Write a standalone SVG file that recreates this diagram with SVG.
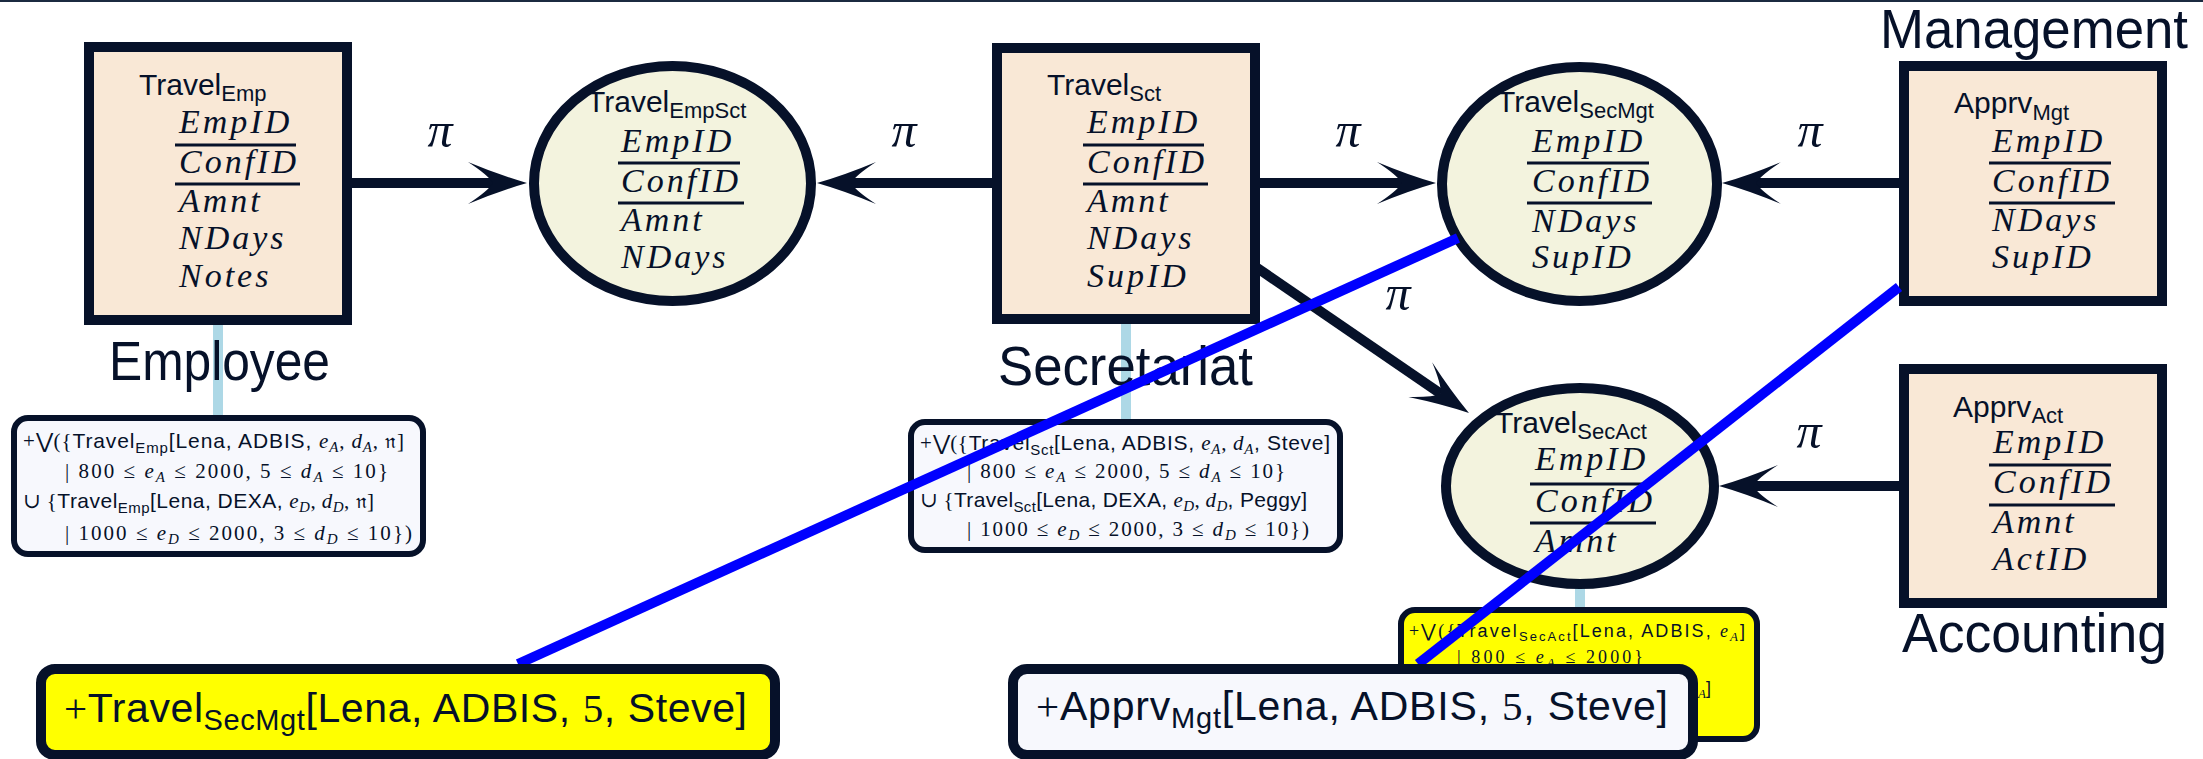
<svg xmlns="http://www.w3.org/2000/svg" width="2203" height="759" viewBox="0 0 2203 759">
<defs>
<style>
.frame{fill:#f9e8d6;stroke:#061129;stroke-width:10}
.oval{fill:#f3f3de;stroke:#061129;stroke-width:10}
.note{fill:#f7f8fd;stroke:#061129;stroke-width:6}
.notey{fill:#ffff00;stroke:#061129;stroke-width:6}
.big{fill:#f7f8fd;stroke:#061129;stroke-width:10}
.bigy{fill:#ffff00;stroke:#061129;stroke-width:10}
text{fill:#061129}
.hd{font-family:"Liberation Sans",Arial,sans-serif;font-size:30px}
.sub{font-size:22px}
.at{font-family:"Liberation Serif","Times New Roman",serif;font-style:italic;font-size:34px;letter-spacing:3px}
.ul{stroke:#061129;stroke-width:3}
.pi{font-family:"Liberation Serif","Times New Roman",serif;font-style:italic;font-size:50px;text-anchor:middle}
.lbl{font-family:"Liberation Sans",Arial,sans-serif;font-size:56px}
.arr{stroke:#061129;stroke-width:10;fill:none;marker-end:url(#ah)}
.lb{stroke:#add8e6;stroke-width:10}
.bl{stroke:#0000ff;stroke-width:10}
.f{font-family:"Liberation Sans",Arial,sans-serif;font-size:21px}
.fy{font-family:"Liberation Sans",Arial,sans-serif;font-size:18px}
.bt{font-family:"Liberation Sans",Arial,sans-serif;font-size:41px}
.m{font-family:"Liberation Serif","DejaVu Serif",serif;font-style:normal}
.mi{font-family:"Liberation Serif","DejaVu Serif",serif;font-style:italic}
.s{font-size:15px}
.sy{font-size:13px}
</style>
<marker id="ah" markerUnits="userSpaceOnUse" markerWidth="70" markerHeight="50" viewBox="0 0 70 50" refX="26" refY="25" orient="auto">
<path d="M60,25 Q32,17 1,4 Q21,17 26,25 Q21,33 1,46 Q32,33 60,25 Z" fill="#061129"/>
</marker>
</defs>
<rect x="0" y="0" width="2203" height="2" fill="#1b2a40"/>

<g id="connectors">
<line class="lb" x1="218" y1="320" x2="218" y2="418"/>
<line class="lb" x1="1126" y1="320" x2="1126" y2="422"/>
<line class="lb" x1="1580" y1="584" x2="1580" y2="610"/>
<line class="arr" x1="350" y1="183" x2="493" y2="183"/>
<line class="arr" x1="995" y1="183" x2="851" y2="183"/>
<line class="arr" x1="1258" y1="183" x2="1402" y2="183"/>
<line class="arr" x1="1250" y1="263" x2="1440.9" y2="393.8"/>
<line class="arr" x1="1901" y1="183" x2="1756" y2="183"/>
<line class="arr" x1="1901" y1="486" x2="1753" y2="486"/>
<text class="pi" x="440" y="147">π</text>
<text class="pi" x="904" y="147">π</text>
<text class="pi" x="1348" y="147">π</text>
<text class="pi" x="1398" y="310">π</text>
<text class="pi" x="1810" y="147">π</text>
<text class="pi" x="1809" y="448">π</text>
</g>

<g id="travel-emp">
<rect class="frame" x="89" y="47" width="258" height="273"/>
<text class="hd" x="139" y="95">Travel<tspan class="sub" dy="6">Emp</tspan></text>
<text class="at" x="179" y="133">EmpID</text>
<line class="ul" x1="175" y1="145" x2="296" y2="145"/>
<text class="at" x="179" y="173">ConfID</text>
<line class="ul" x1="175" y1="184" x2="300" y2="184"/>
<text class="at" x="179" y="212">Amnt</text>
<text class="at" x="179" y="249">NDays</text>
<text class="at" x="179" y="287">Notes</text>
<text class="lbl" x="109" y="380" textLength="221" lengthAdjust="spacingAndGlyphs">Employee</text>
</g>

<g id="travel-empsct">
<ellipse class="oval" cx="672.5" cy="183.5" rx="138.5" ry="117.5"/>
<text class="hd" x="587" y="112">Travel<tspan class="sub" dy="6">EmpSct</tspan></text>
<text class="at" x="621" y="152">EmpID</text>
<line class="ul" x1="618" y1="163" x2="740" y2="163"/>
<text class="at" x="621" y="192">ConfID</text>
<line class="ul" x1="618" y1="203" x2="744" y2="203"/>
<text class="at" x="621" y="231">Amnt</text>
<text class="at" x="621" y="268">NDays</text>
</g>

<g id="travel-sct">
<rect class="frame" x="997" y="48" width="258" height="271"/>
<text class="hd" x="1047" y="95">Travel<tspan class="sub" dy="6">Sct</tspan></text>
<text class="at" x="1087" y="133">EmpID</text>
<line class="ul" x1="1083" y1="145" x2="1204" y2="145"/>
<text class="at" x="1087" y="173">ConfID</text>
<line class="ul" x1="1083" y1="184" x2="1208" y2="184"/>
<text class="at" x="1087" y="212">Amnt</text>
<text class="at" x="1087" y="249">NDays</text>
<text class="at" x="1087" y="287">SupID</text>
<text class="lbl" x="998" y="385" textLength="255" lengthAdjust="spacingAndGlyphs">Secretariat</text>
</g>

<g id="travel-secmgt">
<ellipse class="oval" cx="1579.5" cy="184" rx="137.5" ry="117"/>
<text class="hd" x="1497" y="112">Travel<tspan class="sub" dy="6">SecMgt</tspan></text>
<text class="at" x="1532" y="152">EmpID</text>
<line class="ul" x1="1527" y1="163" x2="1649" y2="163"/>
<text class="at" x="1532" y="192">ConfID</text>
<line class="ul" x1="1527" y1="203" x2="1652" y2="203"/>
<text class="at" x="1532" y="232">NDays</text>
<text class="at" x="1532" y="268">SupID</text>
</g>

<g id="travel-secact">
<ellipse class="oval" cx="1580" cy="486" rx="134" ry="98"/>
<text class="hd" x="1495" y="433">Travel<tspan class="sub" dy="6">SecAct</tspan></text>
<text class="at" x="1535" y="470">EmpID</text>
<line class="ul" x1="1530" y1="484" x2="1652" y2="484"/>
<text class="at" x="1535" y="512">ConfID</text>
<line class="ul" x1="1530" y1="523" x2="1656" y2="523"/>
<text class="at" x="1535" y="552">Amnt</text>
</g>

<g id="apprv-mgt">
<rect class="frame" x="1904" y="66" width="258" height="235"/>
<text class="hd" x="1954" y="113">Apprv<tspan class="sub" dy="7">Mgt</tspan></text>
<text class="at" x="1992" y="152">EmpID</text>
<line class="ul" x1="1989" y1="163" x2="2111" y2="163"/>
<text class="at" x="1992" y="192">ConfID</text>
<line class="ul" x1="1989" y1="203" x2="2115" y2="203"/>
<text class="at" x="1992" y="231">NDays</text>
<text class="at" x="1992" y="268">SupID</text>
<text class="lbl" x="1880" y="48" textLength="308" lengthAdjust="spacingAndGlyphs">Management</text>
</g>

<g id="apprv-act">
<rect class="frame" x="1904" y="369" width="258" height="234"/>
<text class="hd" x="1953" y="417">Apprv<tspan class="sub" dy="6">Act</tspan></text>
<text class="at" x="1993" y="453">EmpID</text>
<line class="ul" x1="1989" y1="465" x2="2111" y2="465"/>
<text class="at" x="1993" y="493">ConfID</text>
<line class="ul" x1="1989" y1="505" x2="2115" y2="505"/>
<text class="at" x="1993" y="533">Amnt</text>
<text class="at" x="1993" y="570">ActID</text>
<text class="lbl" x="1902" y="652" textLength="265" lengthAdjust="spacingAndGlyphs">Accounting</text>
</g>

<g id="note-emp">
<rect class="note" x="14" y="418" width="409" height="136" rx="14"/>
<text class="f" x="23" y="448" textLength="381"><tspan class="m">+⋁({</tspan>Travel<tspan class="s" dy="5">Emp</tspan><tspan dy="-5">[Lena, ADBIS, </tspan><tspan class="mi">e</tspan><tspan class="mi s" dy="4">A</tspan><tspan class="m" dy="-4">, </tspan><tspan class="mi">d</tspan><tspan class="mi s" dy="4">A</tspan><tspan class="m" dy="-4">, 𝔫]</tspan></text>
<text class="f m" x="65" y="478" textLength="323">| 800 ≤ <tspan class="mi">e</tspan><tspan class="mi s" dy="4">A</tspan><tspan dy="-4"> ≤ 2000, 5 ≤ </tspan><tspan class="mi">d</tspan><tspan class="mi s" dy="4">A</tspan><tspan dy="-4"> ≤ 10}</tspan></text>
<text class="f" x="23" y="508" textLength="351"><tspan class="m">∪ {</tspan>Travel<tspan class="s" dy="5">Emp</tspan><tspan dy="-5">[Lena, DEXA, </tspan><tspan class="mi">e</tspan><tspan class="mi s" dy="4">D</tspan><tspan class="m" dy="-4">, </tspan><tspan class="mi">d</tspan><tspan class="mi s" dy="4">D</tspan><tspan class="m" dy="-4">, 𝔫]</tspan></text>
<text class="f m" x="65" y="540" textLength="347">| 1000 ≤ <tspan class="mi">e</tspan><tspan class="mi s" dy="4">D</tspan><tspan dy="-4"> ≤ 2000, 3 ≤ </tspan><tspan class="mi">d</tspan><tspan class="mi s" dy="4">D</tspan><tspan dy="-4"> ≤ 10})</tspan></text>
</g>

<g id="note-sct">
<rect class="note" x="911" y="422" width="429" height="128" rx="14"/>
<text class="f" x="920" y="450" textLength="410"><tspan class="m">+⋁({</tspan>Travel<tspan class="s" dy="5">Sct</tspan><tspan dy="-5">[Lena, ADBIS, </tspan><tspan class="mi">e</tspan><tspan class="mi s" dy="4">A</tspan><tspan class="m" dy="-4">, </tspan><tspan class="mi">d</tspan><tspan class="mi s" dy="4">A</tspan><tspan dy="-4">, Steve]</tspan></text>
<text class="f m" x="967" y="478" textLength="318">| 800 ≤ <tspan class="mi">e</tspan><tspan class="mi s" dy="4">A</tspan><tspan dy="-4"> ≤ 2000, 5 ≤ </tspan><tspan class="mi">d</tspan><tspan class="mi s" dy="4">A</tspan><tspan dy="-4"> ≤ 10}</tspan></text>
<text class="f" x="920" y="507" textLength="387"><tspan class="m">∪ {</tspan>Travel<tspan class="s" dy="5">Sct</tspan><tspan dy="-5">[Lena, DEXA, </tspan><tspan class="mi">e</tspan><tspan class="mi s" dy="4">D</tspan><tspan class="m" dy="-4">, </tspan><tspan class="mi">d</tspan><tspan class="mi s" dy="4">D</tspan><tspan dy="-4">, Peggy]</tspan></text>
<text class="f m" x="967" y="536" textLength="342">| 1000 ≤ <tspan class="mi">e</tspan><tspan class="mi s" dy="4">D</tspan><tspan dy="-4"> ≤ 2000, 3 ≤ </tspan><tspan class="mi">d</tspan><tspan class="mi s" dy="4">D</tspan><tspan dy="-4"> ≤ 10})</tspan></text>
</g>

<g id="note-secact">
<rect class="notey" x="1401" y="610" width="356" height="129" rx="14"/>
<text class="fy" x="1409" y="637" textLength="336"><tspan class="m">+⋁({</tspan>Travel<tspan class="sy" dy="4">SecAct</tspan><tspan dy="-4">[Lena, ADBIS, </tspan><tspan class="mi">e</tspan><tspan class="mi sy" dy="4">A</tspan><tspan dy="-4">]</tspan></text>
<text class="fy m" x="1457" y="663" textLength="186">| 800 ≤ <tspan class="mi">e</tspan><tspan class="mi sy" dy="4">A</tspan><tspan dy="-4"> ≤ 2000}</tspan></text>
<text class="fy" x="1698" y="698"><tspan class="mi sy">A</tspan><tspan dy="-4">]</tspan></text>
</g>

<g id="provenance-links">
<line class="bl" x1="1458" y1="238" x2="518" y2="664"/>
<line class="bl" x1="1899" y1="287" x2="1418" y2="664"/>
</g>

<g id="insert-travel-secmgt">
<rect class="bigy" x="41" y="669" width="734" height="86" rx="14"/>
<text class="bt" x="64" y="722" textLength="683"><tspan class="m">+</tspan>Travel<tspan font-size="29" dy="8">SecMgt</tspan><tspan dy="-8">[Lena, ADBIS, </tspan><tspan class="m">5</tspan>, Steve]</text>
</g>

<g id="insert-apprv-mgt">
<rect class="big" x="1013" y="669" width="680" height="86" rx="14"/>
<text class="bt" x="1036" y="720" textLength="632"><tspan class="m">+</tspan>Apprv<tspan font-size="29" dy="8">Mgt</tspan><tspan dy="-8">[Lena, ADBIS, </tspan><tspan class="m">5</tspan>, Steve]</text>
</g>
</svg>
